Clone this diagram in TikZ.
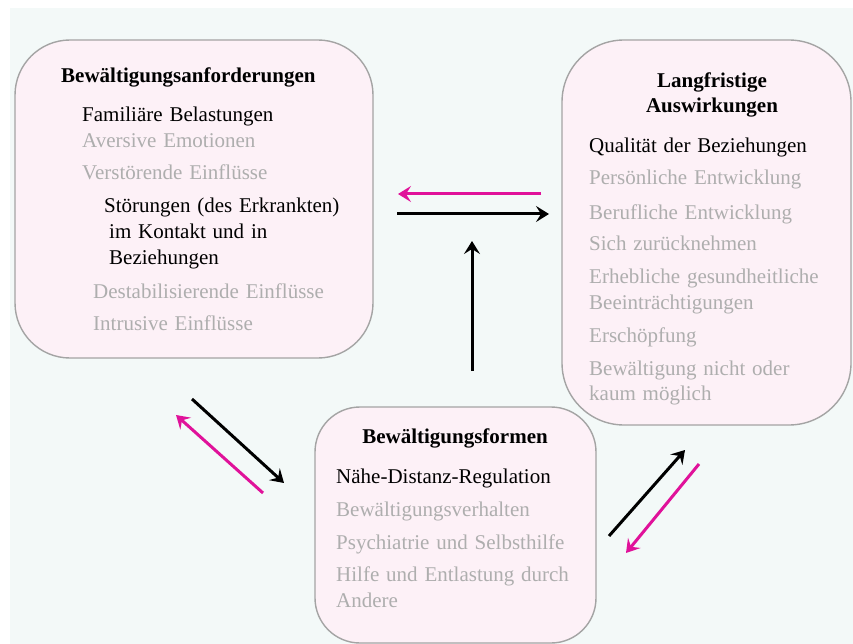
\documentclass[tikz,border=0pt]{standalone}
\usepackage{fontspec}
\setmainfont{Liberation Serif}
\newfontfamily\wideserif[WordSpace=1.3]{Liberation Serif}
\usetikzlibrary{arrows.meta}
\definecolor{bgc}{HTML}{F3F9F8}
\definecolor{boxfill}{HTML}{FDF1F7}
\definecolor{boxline}{HTML}{A4A4A4}
\definecolor{graytxt}{HTML}{AEAEAE}
\definecolor{magentaarrow}{HTML}{E0129A}
\tikzset{
  panel/.style={draw=boxline, line width=1.4pt, fill=boxfill},
  head/.style={font=\fontsize{21}{24}\selectfont\bfseries, inner sep=0pt, text=black},
  itemb/.style={font=\wideserif\fontsize{21}{24}\selectfont, inner sep=0pt, anchor=base west, text=black},
  itemg/.style={itemb, text=graytxt},
  blackarrow/.style={line width=3pt, draw=black, -{Stealth[length=13pt,width=16pt,inset=5pt]}},
  pinkarrow/.style={line width=3pt, draw=magentaarrow, -{Stealth[length=13pt,width=16pt,inset=5pt]}}
}
\begin{document}
\begin{tikzpicture}[x=1pt,y=-1pt]
\useasboundingbox (0,0) rectangle (853,644);
\fill[bgc] (10,8) rectangle (853,644);
% panels
\draw[panel, rounded corners=55pt] (15,40) rectangle (373,358);
\node[inner sep=0pt] (demands) at (194,199) {};
\draw[panel, rounded corners=62pt] (562,40) rectangle (851,425);
\node[inner sep=0pt] (effects) at (706,232) {};
\draw[panel, rounded corners=45pt] (315,407) rectangle (596,643);
\node[inner sep=0pt] (forms) at (455,525) {};
% box 1 text
\node[head, anchor=base west] (h1) at (61,83) {Bewältigungsanforderungen};
\node[itemb] (a1) at (82,122) {Familiäre Belastungen};
\node[itemg] (a2) at (82,148) {Aversive Emotionen};
\node[itemg] (a3) at (82,180) {Verstörende Einflüsse};
\node[itemb] (a4) at (104,213) {Störungen (des Erkrankten)};
\node[itemb] (a5) at (109,238) {im Kontakt und in};
\node[itemb] (a6) at (109,264) {Beziehungen};
\node[itemg] (a7) at (93,298) {Destabilisierende Einflüsse};
\node[itemg] (a8) at (93,330) {Intrusive Einflüsse};
% box 2 text
\node[head, anchor=base] (h2a) at (712,88) {Langfristige};
\node[head, anchor=base] (h2b) at (712,113) {Auswirkungen};
\node[itemb] (b1) at (589,153) {Qualität der Beziehungen};
\node[itemg] (b2) at (589,185) {Persönliche Entwicklung};
\node[itemg] (b3) at (589,219) {Berufliche Entwicklung};
\node[itemg] (b4) at (589,251) {Sich zurücknehmen};
\node[itemg] (b5) at (589,283) {Erhebliche gesundheitliche};
\node[itemg] (b6) at (589,309) {Beeinträchtigungen};
\node[itemg] (b7) at (589,342) {Erschöpfung};
\node[itemg] (b8) at (589,375) {Bewältigung nicht oder};
\node[itemg] (b9) at (589,400) {kaum möglich};
% box 3 text
\node[head, anchor=base] (h3) at (455,443) {Bewältigungsformen};
\node[itemb] (c1) at (336,483) {Nähe-Distanz-Regulation};
\node[itemg] (c2) at (336,516) {Bewältigungsverhalten};
\node[itemg] (c3) at (336,549) {Psychiatrie und Selbsthilfe};
\node[itemg] (c4) at (336,581) {Hilfe und Entlastung durch};
\node[itemg] (c5) at (336,607) {Andere};
% arrow end points
\coordinate (p1s) at (541,194); \coordinate (p1e) at (398,194);
\coordinate (k1s) at (397,214); \coordinate (k1e) at (549,214);
\coordinate (k2s) at (472,371); \coordinate (k2e) at (472,241);
\coordinate (k3s) at (192,399); \coordinate (k3e) at (284,483);
\coordinate (p2s) at (263,493); \coordinate (p2e) at (176,415);
\coordinate (k4s) at (609,536); \coordinate (k4e) at (685,450);
\coordinate (p3s) at (699,464); \coordinate (p3e) at (626,553);
\draw[pinkarrow] (p1s) -- (p1e);
\draw[blackarrow] (k1s) -- (k1e);
\draw[blackarrow] (k2s) -- (k2e);
\draw[blackarrow] (k3s) -- (k3e);
\draw[pinkarrow] (p2s) -- (p2e);
\draw[blackarrow] (k4s) -- (k4e);
\draw[pinkarrow] (p3s) -- (p3e);
\end{tikzpicture}
\end{document}
